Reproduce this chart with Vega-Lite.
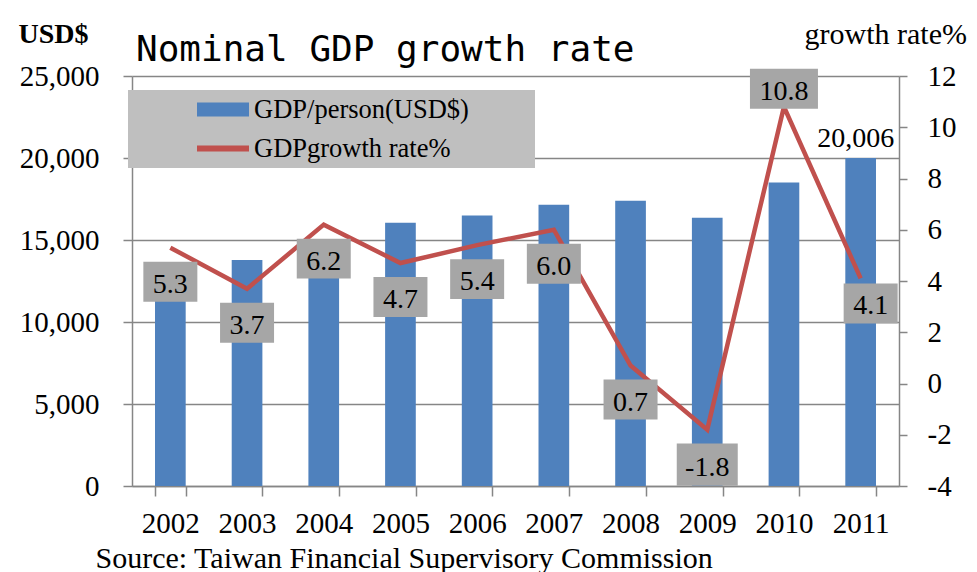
{
  "$schema": "https://vega.github.io/schema/vega-lite/v6.json",
  "width": 767,
  "height": 410,
  "autosize": {"type": "none"},
  "padding": {"left": 132, "top": 76, "right": 78, "bottom": 86},
  "background": "white",
  "title": {"text": "Nominal GDP growth rate", "anchor": "start", "frame": "group", "font": "DejaVu Sans Mono", "fontSize": 36, "fontWeight": "normal", "color": "black", "baseline": "alphabetic", "offset": -38, "dx": 4, "dy": 40},
  "data": {"values": [
    {"year": "2002", "gdp": 13404, "rate": 5.3},
    {"year": "2003", "gdp": 13773, "rate": 3.7},
    {"year": "2004", "gdp": 15012, "rate": 6.2},
    {"year": "2005", "gdp": 16051, "rate": 4.7},
    {"year": "2006", "gdp": 16491, "rate": 5.4},
    {"year": "2007", "gdp": 17154, "rate": 6.0},
    {"year": "2008", "gdp": 17399, "rate": 0.7},
    {"year": "2009", "gdp": 16359, "rate": -1.8},
    {"year": "2010", "gdp": 18503, "rate": 10.8},
    {"year": "2011", "gdp": 20006, "rate": 4.1}
  ]},
  "resolve": {"scale": {"y": "independent"}},
  "layer": [
    {
      "layer": [
        {
          "mark": {"type": "bar"},
          "encoding": {
            "x": {"field": "year", "type": "ordinal", "scale": {"paddingInner": 0.6, "paddingOuter": 0.3},
              "axis": {"labelAngle": 0, "labelFontSize": 29, "labelPadding": 13, "tickSize": 10, "tickBand": "extent", "title": "Source: Taiwan Financial Supervisory Commission", "titleFontSize": 30, "titleFontWeight": "normal", "titleAnchor": "start", "titleAlign": "left", "titleBaseline": "alphabetic", "titleX": -37, "titleY": 81}},
            "y": {"field": "gdp", "type": "quantitative", "scale": {"domain": [0, 25000], "nice": false, "zero": true},
              "axis": {"values": [0, 5000, 10000, 15000, 20000, 25000], "format": ",.0f", "labelFontSize": 29, "tickSize": 9, "labelPadding": 24, "grid": true, "title": "USD$", "titleAngle": 0, "titleFontSize": 28, "titleFontWeight": "bold", "titleAlign": "left", "titleBaseline": "alphabetic", "titleX": -114, "titleY": -34}},
            "color": {"datum": "GDP/person(USD$)",
              "scale": {"domain": ["GDP/person(USD$)", "GDPgrowth rate%"], "range": ["#4f81bd", "#c0504d"]},
              "legend": {"orient": "none", "legendX": -4, "legendY": 14, "title": null, "fillColor": "#bfbfbf", "padding": 6,
                "labelFont": "Liberation Serif", "labelFontSize": 26.5, "labelColor": "black", "labelLimit": 0,
                "labelExpr": "datum.label + '\u2800\u2800\u2800'",
                "symbolType": "M-1,-0.27H1V0.27H-1Z", "symbolSize": 2704, "symbolOffset": 63, "labelOffset": 5, "rowPadding": 12, "clipHeight": 27, "symbolStrokeWidth": 0,
                "encode": {"symbols": {"update": {
                  "shape": {"signal": "datum.value == 'GDPgrowth rate%' ? 'M-1,-0.115H1V0.115H-1Z' : 'M-1,-0.27H1V0.27H-1Z'"},
                  "fill": {"signal": "datum.value == 'GDPgrowth rate%' ? '#c0504d' : '#4f81bd'"},
                  "opacity": {"value": 1}
                }}}
              }}
          }
        },
        {
          "transform": [{"filter": "datum.year == '2011'"}],
          "mark": {"type": "text", "fontSize": 28, "baseline": "alphabetic", "yOffset": -11, "xOffset": -5, "color": "black"},
          "encoding": {
            "x": {"field": "year", "type": "ordinal"},
            "y": {"field": "gdp", "type": "quantitative"},
            "text": {"field": "gdp", "type": "quantitative", "format": ","}
          }
        }
      ]
    },
    {
      "layer": [
        {
          "mark": {"type": "line", "strokeWidth": 4.5},
          "encoding": {
            "x": {"field": "year", "type": "ordinal"},
            "y": {"field": "rate", "type": "quantitative", "scale": {"domain": [-4, 12], "nice": false},
              "axis": {"orient": "right", "values": [-4, -2, 0, 2, 4, 6, 8, 10, 12], "labelFontSize": 29, "tickSize": 8, "labelPadding": 20, "grid": false, "title": "growth rate%", "titleAngle": 0, "titleFontSize": 30, "titleFontWeight": "normal", "titleAlign": "left", "titleBaseline": "alphabetic", "titleX": -95, "titleY": -33}},
            "color": {"datum": "GDPgrowth rate%"}
          }
        },
        {
          "transform": [{"filter": {"field": "year", "oneOf": ["2002", "2003", "2004", "2005", "2006", "2007", "2008"]}}],
          "mark": {"type": "point", "shape": "M-1,-0.74H1V0.74H-1Z", "size": 2916, "filled": true, "fill": "#a6a6a6", "opacity": 1, "strokeWidth": 0, "yOffset": 34},
          "encoding": {"x": {"field": "year", "type": "ordinal"}, "y": {"field": "rate", "type": "quantitative"}}
        },
        {
          "transform": [{"filter": {"field": "year", "oneOf": ["2002", "2003", "2004", "2005", "2006", "2007", "2008"]}}],
          "mark": {"type": "text", "fontSize": 28, "baseline": "alphabetic", "yOffset": 45, "color": "black"},
          "encoding": {"x": {"field": "year", "type": "ordinal"}, "y": {"field": "rate", "type": "quantitative"}, "text": {"field": "rate", "type": "quantitative", "format": ".1f"}}
        },
        {
          "transform": [{"filter": "datum.year == '2009'"}],
          "mark": {"type": "point", "shape": "M-1,-0.69H1V0.69H-1Z", "size": 3721, "filled": true, "fill": "#a6a6a6", "opacity": 1, "strokeWidth": 0, "yOffset": 35},
          "encoding": {"x": {"field": "year", "type": "ordinal"}, "y": {"field": "rate", "type": "quantitative"}}
        },
        {
          "transform": [{"filter": "datum.year == '2009'"}],
          "mark": {"type": "text", "fontSize": 28, "baseline": "alphabetic", "yOffset": 46, "color": "black"},
          "encoding": {"x": {"field": "year", "type": "ordinal"}, "y": {"field": "rate", "type": "quantitative"}, "text": {"field": "rate", "type": "quantitative", "format": ".1f"}}
        },
        {
          "transform": [{"filter": "datum.year == '2010'"}],
          "mark": {"type": "point", "shape": "M-1,-0.588H1V0.588H-1Z", "size": 4624, "filled": true, "fill": "#a6a6a6", "opacity": 1, "strokeWidth": 0, "yOffset": -18},
          "encoding": {"x": {"field": "year", "type": "ordinal"}, "y": {"field": "rate", "type": "quantitative"}}
        },
        {
          "transform": [{"filter": "datum.year == '2010'"}],
          "mark": {"type": "text", "fontSize": 28, "baseline": "alphabetic", "yOffset": -7, "color": "black"},
          "encoding": {"x": {"field": "year", "type": "ordinal"}, "y": {"field": "rate", "type": "quantitative"}, "text": {"field": "rate", "type": "quantitative", "format": ".1f"}}
        },
        {
          "transform": [{"filter": "datum.year == '2011'"}],
          "mark": {"type": "point", "shape": "M-1,-0.74H1V0.74H-1Z", "size": 2916, "filled": true, "fill": "#a6a6a6", "opacity": 1, "strokeWidth": 0, "yOffset": 25, "xOffset": 10},
          "encoding": {"x": {"field": "year", "type": "ordinal"}, "y": {"field": "rate", "type": "quantitative"}}
        },
        {
          "transform": [{"filter": "datum.year == '2011'"}],
          "mark": {"type": "text", "fontSize": 28, "baseline": "alphabetic", "yOffset": 36, "xOffset": 10, "color": "black"},
          "encoding": {"x": {"field": "year", "type": "ordinal"}, "y": {"field": "rate", "type": "quantitative"}, "text": {"field": "rate", "type": "quantitative", "format": ".1f"}}
        }
      ]
    }
  ],
  "config": {
    "view": {"stroke": null},
    "font": "Liberation Serif",
    "axis": {"labelFont": "Liberation Serif", "titleFont": "Liberation Serif", "labelColor": "#000000", "titleColor": "#000000", "domainColor": "#868686", "tickColor": "#868686", "gridColor": "#868686", "domainWidth": 1.5, "tickWidth": 1.5, "gridWidth": 1.3},
    "locale": {"number": {"decimal": ".", "thousands": ",", "grouping": [3], "currency": ["$", ""], "minus": "-"}}
  }
}
